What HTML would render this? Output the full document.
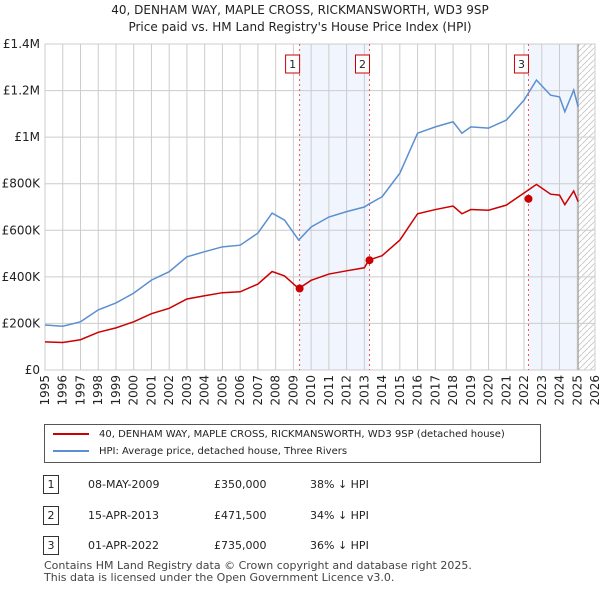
<!DOCTYPE html>
<html><head><meta charset="utf-8"><style>
body{margin:0;background:#fff;font-family:"DejaVu Sans","Liberation Sans",sans-serif;color:#222}
#wrap{position:relative;width:600px;height:590px;overflow:hidden}
.t{position:absolute;font-size:12px}
</style></head><body><div id="wrap">
<div class="t" style="left:0;width:600px;text-align:center;top:2px;font-size:12px;line-height:17px">40, DENHAM WAY, MAPLE CROSS, RICKMANSWORTH, WD3 9SP<br>Price paid vs. HM Land Registry's House Price Index (HPI)</div>
<svg id="chart" width="600" height="410" style="position:absolute;left:0;top:0"></svg>
<div style="position:absolute;left:44px;top:424px;width:495px;height:37px;border:1px solid #555;font-size:10px">
<div style="position:absolute;left:8px;top:4px"><span style="display:inline-block;width:36px;border-top:2px solid #c00;vertical-align:middle;margin-right:10px"></span>40, DENHAM WAY, MAPLE CROSS, RICKMANSWORTH, WD3 9SP (detached house)</div>
<div style="position:absolute;left:8px;top:21px"><span style="display:inline-block;width:36px;border-top:2px solid #5b8fd0;vertical-align:middle;margin-right:10px"></span>HPI: Average price, detached house, Three Rivers</div>
</div>
<div id="tbl"></div>
<div class="t" style="left:44px;top:560px;font-size:11px;line-height:12px;color:#444">Contains HM Land Registry data © Crown copyright and database right 2025.<br>This data is licensed under the Open Government Licence v3.0.</div>
</div>
<script>
const years=[1995,1996,1997,1998,1999,2000,2001,2002,2003,2004,2005,2006,2007,2007.8,2008.5,2009.3,2010,2011,2012,2013,2013.25,2014,2015,2016,2017,2018,2018.5,2019,2020,2021,2022,2022.7,2023.5,2024,2024.3,2024.8,2025.05];
const hpi=[193,188,207,258,288,330,386,422,486,508,529,536,588,674,644,558,614,657,680,700,712,744,845,1017,1044,1066,1017,1044,1039,1073,1159,1245,1180,1173,1109,1202,1130];
const paid=[121,118,130,162,181,207,242,265,305,319,332,336,369,423,404,350,385,412,426,439,472,491,558,671,689,704,671,689,686,708,760,797,755,751,710,769,723];
const saleYears=[2009.35,2013.29,2022.25];
const saleValues=[350,471.5,735];
const saleLabels=["1","2","3"];
const saleDates=["08-MAY-2009","15-APR-2013","01-APR-2022"];
const salePrices=["£350,000","£471,500","£735,000"];
const saleHpi=["38% ↓ HPI","34% ↓ HPI","36% ↓ HPI"];
const yTicks=[0,200,400,600,800,1000,1200,1400];
const yLabels=["£0","£200K","£400K","£600K","£800K","£1M","£1.2M","£1.4M"];
const NS="http://www.w3.org/2000/svg";
const svg=document.getElementById('chart');
const X=y=>45+(y-1995)*550/31, Y=v=>370-v*326/1400;
function mk(t,a,p){const e=document.createElementNS(NS,t);for(const k in a)e.setAttribute(k,a[k]);(p||svg).appendChild(e);return e;}
let s=mk('rect',{x:X(saleYears[0]),y:44,width:X(saleYears[1])-X(saleYears[0]),height:326,fill:'#f1f5fd'});

s=mk('rect',{x:X(saleYears[2]),y:44,width:X(2025.05)-X(saleYears[2]),height:326,fill:'#f1f5fd'});

const defs=mk('defs',{});const pat=mk('pattern',{id:'h',width:6,height:6,patternUnits:'userSpaceOnUse'},defs);
mk('path',{d:'M0,6L6,0',stroke:'#ccc','stroke-width':1},pat);
s=mk('rect',{x:X(2025.05),y:44,width:595-X(2025.05),height:326,fill:'url(#h)'});

for(let y=1995;y<=2026;y++){
 const g=mk('line',{x1:X(y),x2:X(y),y1:44,y2:370,stroke:'#ccc'});
 
 const t=mk('text',{x:0,y:0,'text-anchor':'end','font-size':12,fill:'#222',transform:'translate('+(X(y)+4)+',375) rotate(-90)'});t.textContent=y;
 
}
yTicks.forEach((v,i)=>{
 const g=mk('line',{x1:45,x2:595,y1:Y(v),y2:Y(v),stroke:'#ccc'});
 
 const t=mk('text',{x:40,y:Y(v)+4,'text-anchor':'end','font-size':12,fill:'#222'});t.textContent=yLabels[i];
 
});
let b=mk('rect',{x:45,y:44,width:550,height:326,fill:'none',stroke:'#ccc'});

let fl=mk('line',{x1:X(2025.05),x2:X(2025.05),y1:44,y2:370,stroke:'#999'});

saleYears.forEach((y,i)=>{
 const l=mk('line',{x1:X(y),x2:X(y),y1:44,y2:370,stroke:'#e55','stroke-dasharray':'2,3'});
 
 const r=mk('rect',{x:X(y)-14,y:55,width:14,height:18,fill:'#fff',stroke:'#c00'});
 
 const t=mk('text',{x:X(y)-7,y:68,'text-anchor':'middle','font-size':11,fill:'#222'});t.textContent=saleLabels[i];
 
});
let p=mk('polyline',{points:years.map((y,i)=>X(y)+','+Y(hpi[i])).join(' '),fill:'none',stroke:'#5b8fd0','stroke-width':1.5});

p=mk('polyline',{points:years.map((y,i)=>X(y)+','+Y(paid[i])).join(' '),fill:'none',stroke:'#c00','stroke-width':1.5});

saleYears.forEach((y,i)=>{
 const c=mk('circle',{cx:X(y),cy:Y(saleValues[i]),r:4,fill:'#c00'});
 
});
const tbl=document.getElementById('tbl');
saleDates.forEach((d,i)=>{
 const top=[475,506,536][i];
 const row=document.createElement('div');
 
 
 row.style.cssText='position:absolute;left:0;top:'+top+'px;font-size:11px;width:600px;height:18px';
 row.innerHTML='<div style="position:absolute;left:43px;top:0;width:14px;height:17px;border:1px solid #333;text-align:center;line-height:17px">'+saleLabels[i]+'</div><div style="position:absolute;left:88px;top:3px">'+d+'</div><div style="position:absolute;left:214px;top:3px">'+salePrices[i]+'</div><div style="position:absolute;left:310px;top:3px">'+saleHpi[i]+'</div>';
 tbl.appendChild(row);
});
</script></body></html>
